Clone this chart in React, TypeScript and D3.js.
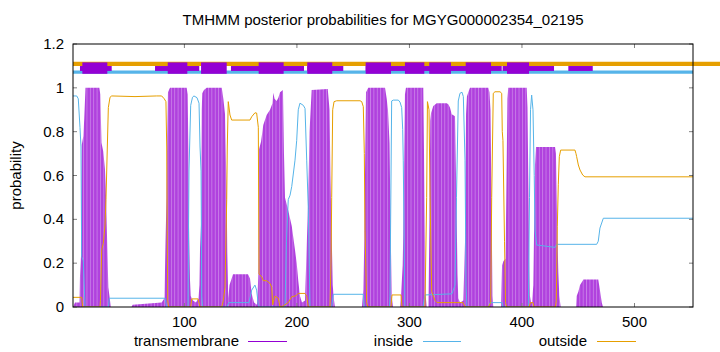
import React from 'react';
import * as d3 from 'd3';

// posterior probabilities as [residue, probability]
const tmProb: [number, number][] = [
  [1, 0], [2.8, 0.02], [6.8, 0.02], [7.2, 0.14], [8.1, 0.23], [8.8, 0.74], [10.2, 0.78], [11, 0.86], [12.1, 1],
  [24.4, 1], [25.3, 0.97], [26.3, 0.75], [27.9, 0.71], [29.4, 0.63], [30.3, 0.51], [31.5, 0.27], [32.4, 0.09],
  [33.9, 0.03], [34.8, 0], [53, 0], [54, 0.01], [79.8, 0.02], [82.3, 0.04], [83.2, 0.29], [84.1, 0.5], [84.7, 0.77],
  [85.4, 0.98], [87.2, 1], [102, 1], [102.9, 0.97], [103.6, 0.7], [104.1, 0.37], [105, 0.12], [105.6, 0.05],
  [107.6, 0.03], [110.3, 0.02], [112.5, 0.04], [113.4, 0.1], [113.9, 0.27], [114.8, 0.38], [115.4, 0.9],
  [115.9, 0.975], [117.4, 0.99], [119.8, 1], [133.2, 1], [134.6, 0.95], [136.1, 0.88], [137.6, 0.5], [138.1, 0.25],
  [139, 0.04], [140.1, 0.1], [142, 0.13], [143.2, 0.15], [156.5, 0.15], [158.3, 0.13], [159.8, 0.06], [161.9, 0.02],
  [164.5, 0.01], [165, 0.05], [165.7, 0.15], [166.3, 0.72], [168.1, 0.754], [170.1, 0.83], [173.1, 0.876],
  [176.1, 0.9], [178.3, 0.93], [179, 0.978], [180.1, 0.95], [182, 0.94], [183.5, 0.955], [185, 0.98], [187.6, 0.99],
  [188.5, 0.7], [189.4, 0.5], [192.3, 0.44], [195.4, 0.37], [198.3, 0.26], [199.8, 0.2], [201.2, 0.12], [202.7, 0.05],
  [204.5, 0.02], [207.2, 0.03], [208.7, 0.28], [210.1, 0.5], [211.2, 0.8], [213.1, 0.99], [227.4, 0.995], [229, 0.9],
  [229.8, 0.6], [230.9, 0.33], [231.8, 0.1], [233, 0.03], [233.8, 0], [257.8, 0], [259, 0.08], [259.9, 0.3],
  [260.5, 0.6], [261.4, 0.98], [263.4, 1], [278.3, 1], [279.8, 0.95], [280.9, 0.9], [282.3, 0.75], [283.2, 0.4],
  [284.2, 0.05], [285.4, 0], [291.6, 0], [292.5, 0.05], [294, 0.19], [294.5, 0.33], [295.3, 0.7], [296, 0.97],
  [296.9, 1], [312.3, 1], [313.4, 0.5], [314.3, 0.06], [315.3, 0], [316.9, 0], [317.8, 0.4], [318.5, 0.85],
  [319.2, 0.885], [321.2, 0.917], [324.2, 0.93], [333.1, 0.93], [334.5, 0.925], [336, 0.91], [337.6, 0.88],
  [340.5, 0.87], [341.8, 0.48], [342.7, 0.15], [343.4, 0.04], [344.9, 0.02], [347.9, 0.03], [349.4, 0.3],
  [350.3, 0.88], [351.1, 0.96], [352.3, 0.98], [353.8, 1], [370.1, 1], [371.1, 0.98], [372, 0.9], [373.1, 0.4],
  [373.8, 0.05], [374.5, 0], [381.4, 0], [382.3, 0.19], [383.6, 0.21], [385.4, 0.22], [386.3, 0.6], [387.1, 0.95],
  [387.8, 1], [404.2, 1], [404.9, 0.91], [405.6, 0.6], [406.5, 0.21], [407.1, 0.05], [408, 0.02], [408.9, 0.02],
  [410.1, 0.1], [410.9, 0.4], [411.6, 0.65], [412.5, 0.73], [429.4, 0.73], [430.2, 0.7], [431.4, 0.35],
  [432.3, 0.16], [433.2, 0.05], [434.4, 0], [448, 0], [448.6, 0.05], [450.1, 0.07], [451.6, 0.1], [454, 0.12],
  [454.5, 0.126], [467.8, 0.126], [468.9, 0.09], [470.9, 0.02], [472, 0], [552, 0],
];

const insideProb: [number, number][] = [
  [1, 0.963], [4.3, 0.963], [5.7, 0.95], [7.2, 0.82], [8.1, 0.73], [8.7, 0.23], [10.2, 0.21], [11.7, 0],
  [32.5, 0], [33.3, 0.04], [82.8, 0.04], [84.3, 0], [103.2, 0], [104.1, 0.625], [105.6, 0.92], [107.2, 0.957],
  [108.5, 0.963], [111.2, 0.955], [113, 0.93], [113.9, 0.73], [114.8, 0.62], [115.4, 0.05], [116.1, 0],
  [137.6, 0], [139.6, 0.02], [157.4, 0.02], [159.8, 0.077], [162.7, 0.1], [164.2, 0.077], [165.7, 0.01],
  [166.7, 0], [189.4, 0], [190.7, 0.3], [192.3, 0.49], [193.9, 0.51], [195.4, 0.55], [198.3, 0.67], [199.8, 0.76],
  [201.2, 0.9], [202.7, 0.93], [205.7, 0.92], [207.2, 0.906], [208.7, 0.67], [210.1, 0.45], [211.6, 0],
  [230.9, 0], [232.3, 0.058], [259, 0.058], [259.9, 0], [282.3, 0], [282.7, 0.05], [284.2, 0.94], [285.6, 0.944],
  [290.1, 0.944], [291.6, 0.935], [293.1, 0.91], [294, 0.81], [294.5, 0.67], [295.3, 0.3], [296, 0], [312, 0],
  [313.8, 0.055], [337.8, 0.06], [340.5, 0.1], [341.8, 0.5], [343.4, 0.94], [344.9, 0.975], [346.7, 0.98],
  [347.9, 0.96], [349.4, 0.67], [350.3, 0.1], [351.1, 0], [370.1, 0], [371.6, 0.02], [382.3, 0.02], [383.1, 0],
  [405.6, 0], [405.8, 0.05], [406.7, 0.5], [407.6, 0.9], [408.6, 0.967], [409.8, 0.9], [410.9, 0.6], [411.6, 0.35],
  [413.1, 0.283], [429.4, 0.272], [430.8, 0.286], [466.4, 0.286], [467.8, 0.3], [469.3, 0.36], [472.3, 0.405],
  [552, 0.405],
];

const outsideProb: [number, number][] = [
  [1, 0.044], [8.7, 0.044], [9.6, 0], [25, 0], [25.4, 0.03], [26.5, 0.26], [27.9, 0.29], [29.4, 0.37], [30.3, 0.49],
  [31.5, 0.73], [32.4, 0.91], [33.9, 0.957], [35.4, 0.963], [56.1, 0.96], [75.4, 0.963], [79.8, 0.963],
  [82.1, 0.95], [83.6, 0.937], [84.3, 0.73], [84.7, 0.35], [85.2, 0.03], [85.9, 0], [105.6, 0], [106.5, 0.037],
  [112.1, 0.037], [113.9, 0], [133.2, 0], [134.6, 0.03], [136.1, 0.09], [137.6, 0.49], [138.1, 0.73],
  [139, 0.937], [140.5, 0.876], [142, 0.853], [158.3, 0.853], [159.8, 0.868], [162.7, 0.886], [164.2, 0.885],
  [165.7, 0.82], [166.3, 0.15], [168.7, 0.138], [170.1, 0.12], [173.1, 0.12], [174.6, 0.113], [176.1, 0.108],
  [177.6, 0.09], [178.5, 0.01], [180.5, 0.05], [183.5, 0.04], [185, 0], [187.9, 0.005], [192.3, 0.02],
  [195.4, 0.047], [198.3, 0.05], [199.8, 0.055], [201.2, 0.062], [207.2, 0.062], [208.7, 0.05], [210.1, 0],
  [229.4, 0], [230.3, 0.2], [230.9, 0.5], [231.8, 0.9], [233, 0.937], [235.3, 0.941], [256.1, 0.941],
  [257.6, 0.937], [259, 0.914], [259.9, 0.7], [260.5, 0.35], [262, 0.02], [263.2, 0], [283.6, 0], [284.5, 0.055],
  [292.5, 0.055], [293.4, 0], [313.8, 0], [315.3, 0.5], [316, 0.937], [317.4, 0.9], [318.3, 0.5], [319.8, 0.07],
  [322.7, 0.03], [324.5, 0.02], [347.6, 0.02], [349.4, 0], [370.1, 0], [372.2, 0.02], [373.1, 0.5],
  [374.5, 0.975], [376, 0.982], [380.5, 0.982], [382, 0.975], [382.5, 0.8], [383.1, 0.76], [384.5, 0.3],
  [385.4, 0.02], [386.3, 0], [406.3, 0], [407.6, 0.02], [409.8, 0.02], [410.7, 0], [429.8, 0], [430.5, 0.03],
  [431.4, 0.366], [432.3, 0.56], [433.2, 0.686], [434.4, 0.716], [447.1, 0.716], [448, 0.7], [448.6, 0.686],
  [450.1, 0.648], [451.6, 0.625], [454, 0.602], [456, 0.594], [552, 0.594],
];

// predicted segments on top strip [start, end]
const helixSegments: [number, number][] = [
  [9.3, 31.5], [85.2, 102.6], [114.8, 137.6], [166, 188.2], [209.2, 231.4],
  [261.1, 283.6], [296, 313.2], [317.6, 336.9], [350, 372.5], [386.7, 406.3],
];
const regionSegments: [number, number][] = [
  [7.2, 35.4], [73.9, 113.2], [141.4, 206.3], [209.2, 241.2], [261.1, 382], [382.8, 428.5], [441.2, 462.9],
];

const seqLength = 552;
const xTicks = [100, 200, 300, 400, 500];
const yTicks = [0, 0.2, 0.4, 0.6, 0.8, 1, 1.2];
const legendItems = [
  { label: 'transmembrane', color: '#9400D3', textEnd: 239, x1: 248, x2: 287 },
  { label: 'inside', color: '#56B4E9', textEnd: 413, x1: 423, x2: 461 },
  { label: 'outside', color: '#E69F00', textEnd: 587, x1: 597, x2: 636 },
];

const W = 720;
const H = 352;
const margin = { top: 44, right: 27, bottom: 45, left: 73 };
const font = '"Liberation Sans", Arial, sans-serif';

export default function App() {
  const x = d3.scaleLinear().domain([1, seqLength]).range([margin.left, W - margin.right]);
  const y = d3.scaleLinear().domain([0, 1.2]).range([H - margin.bottom, margin.top]);
  const x0 = margin.left, x1 = W - margin.right, y0 = H - margin.bottom, y1 = margin.top;

  const line = d3.line<[number, number]>().x(d => x(d[0])).y(d => y(d[1]));
  const area = d3.area<[number, number]>().x(d => x(d[0])).y0(y(0)).y1(d => y(d[1]));

  return (
    <svg width={W} height={H} style={{ position: 'absolute', left: 0, top: 0, background: '#fff' }}
      fontFamily={font}>
      <defs>
        <clipPath id="plot"><rect x={x0} y={y1} width={x1 - x0} height={y0 - y1} /></clipPath>
        <pattern id="imp" patternUnits="userSpaceOnUse" x={x0} y={0} width={x(4) - x(1)} height={10}>
          <rect x={0} y={0} width={x(4) - x(1)} height={10} fill="#b041de" />
          <rect x={0} y={0} width={0.9} height={10} fill="#c97ee8" />
        </pattern>
      </defs>

      <text x={(x0 + x1) / 2} y={25} textAnchor="middle" fontSize={15}>
        TMHMM posterior probabilities for MGYG000002354_02195
      </text>

      {/* top strip */}
      <line x1={x0} x2={W} y1={y(1.1095)} y2={y(1.1095)} stroke="#E69F00" strokeWidth={4.3} />
      <line x1={x0} x2={x1} y1={y(1.0715)} y2={y(1.0715)} stroke="#56B4E9" strokeWidth={3.3} />
      {regionSegments.map((s, i) => (
        <rect key={'r' + i} x={x(s[0])} width={x(s[1]) - x(s[0])} y={y(1.0995)} height={y(1.077) - y(1.0995)}
          fill="#9400D3" />
      ))}
      {helixSegments.map((s, i) => (
        <rect key={'h' + i} x={x(s[0])} width={x(s[1]) - x(s[0])} y={y(1.116)} height={y(1.064) - y(1.116)}
          fill="#9400D3" />
      ))}

      <g clipPath="url(#plot)">
        <path d={area(tmProb) ?? ''} fill="url(#imp)" />
        <path d={line(insideProb) ?? ''} fill="none" stroke="#56B4E9" strokeWidth={1} />
        <path d={line(outsideProb) ?? ''} fill="none" stroke="#E69F00" strokeWidth={1} />
      </g>

      {/* ticks */}
      {yTicks.map(t => (
        <g key={'y' + t}>
          <line x1={x0} x2={x0 + 4} y1={y(t)} y2={y(t)} stroke="#808080" />
          <line x1={x1} x2={x1 - 4} y1={y(t)} y2={y(t)} stroke="#808080" />
          <text x={64} y={y(t) + 5} textAnchor="end" fontSize={15}>{t === 0 ? '0' : d3.format('.1f')(t).replace(/\.0$/, '')}</text>
        </g>
      ))}
      {xTicks.map(t => (
        <g key={'x' + t}>
          <line x1={x(t)} x2={x(t)} y1={y0} y2={y0 - 4} stroke="#808080" />
          <line x1={x(t)} x2={x(t)} y1={y1} y2={y1 + 4} stroke="#808080" />
          <text x={x(t)} y={327} textAnchor="middle" fontSize={15}>{t}</text>
        </g>
      ))}
      <rect x={x0} y={y1} width={x1 - x0} height={y0 - y1} fill="none" stroke="#000" strokeWidth={1} />

      <text transform={`translate(21,${(y0 + y1) / 2}) rotate(-90)`} textAnchor="middle" fontSize={15}>probability</text>

      {legendItems.map(l => (
        <g key={l.label}>
          <text x={l.textEnd} y={346} textAnchor="end" fontSize={15}>{l.label}</text>
          <line x1={l.x1} x2={l.x2} y1={341.5} y2={341.5} stroke={l.color} strokeWidth={1} />
        </g>
      ))}
    </svg>
  );
}
